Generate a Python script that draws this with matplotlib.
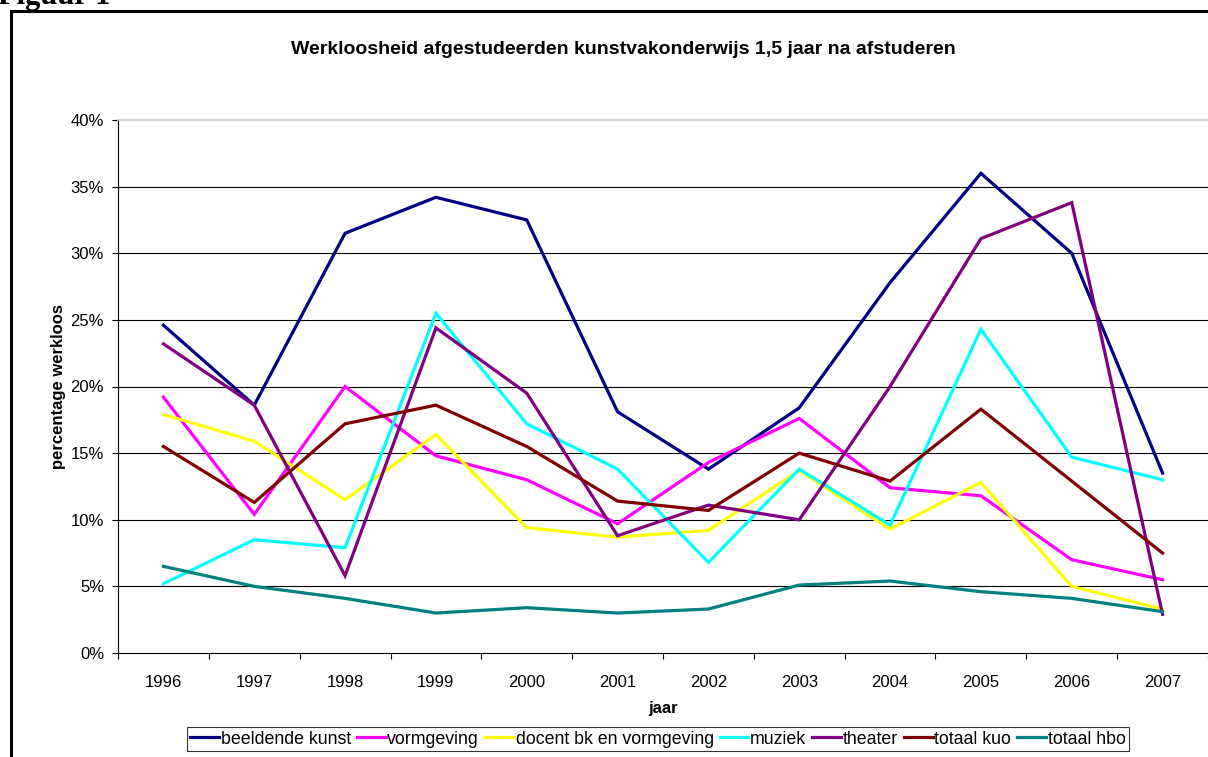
import matplotlib
matplotlib.use("Agg")
import matplotlib.pyplot as plt
from matplotlib.lines import Line2D
from matplotlib.ticker import FixedLocator, PercentFormatter

years = ["1996", "1997", "1998", "1999", "2000", "2001", "2002", "2003", "2004", "2005", "2006", "2007"]

beeldende_kunst = [24.6, 18.6, 31.5, 34.2, 32.5, 18.1, 13.8, 18.4, 27.8, 36.0, 30.0, 13.5]
vormgeving = [19.2, 10.4, 20.0, 14.8, 13.0, 9.7, 14.3, 17.6, 12.4, 11.8, 7.0, 5.5]
docent_bk = [17.9, 15.9, 11.5, 16.4, 9.4, 8.7, 9.2, 13.7, 9.3, 12.8, 5.0, 3.3]
muziek = [5.2, 8.5, 7.9, 25.5, 17.2, 13.8, 6.8, 13.8, 9.6, 24.3, 14.7, 13.0]
theater = [23.2, 18.6, 5.8, 24.4, 19.5, 8.8, 11.1, 10.0, 20.0, 31.1, 33.8, 2.9]
totaal_kuo = [15.5, 11.3, 17.2, 18.6, 15.5, 11.4, 10.7, 15.0, 12.9, 18.3, 12.9, 7.5]
totaal_hbo = [6.5, 5.0, 4.1, 3.0, 3.4, 3.0, 3.3, 5.1, 5.4, 4.6, 4.1, 3.1]

series_names = ["beeldende kunst", "vormgeving", "docent bk en vormgeving", "muziek",
                "theater", "totaal kuo", "totaal hbo"]
series_values = [beeldende_kunst, vormgeving, docent_bk, muziek, theater, totaal_kuo, totaal_hbo]
colors = ["#000080", "#FF00FF", "#FFFF00", "#00FFFF", "#800080", "#800000", "#008080"]

yticks = [0, 5, 10, 15, 20, 25, 30, 35, 40]

plt.rcParams['font.family'] = ['Liberation Sans', 'DejaVu Sans']

W, H = 1208, 757
fig = plt.figure(figsize=(W / 100, H / 100), dpi=100)

left_px, right_px, top_px, bottom_px = 118, 1208, 120, 653
ax = fig.add_axes([left_px / W, 1 - bottom_px / H, (right_px - left_px) / W, (bottom_px - top_px) / H])

x = list(range(len(years)))
for name, vals, c in zip(series_names, series_values, colors):
    ax.plot(x, vals, color=c, lw=2.3, label=name, solid_joinstyle='miter')

ax.set_xlim(-0.5, len(years) - 0.5)
ax.set_ylim(0, 40)
ax.set_xticks(x)
ax.set_xticklabels(years, fontsize=12)
ax.xaxis.set_minor_locator(FixedLocator([i - 0.5 for i in range(len(years) + 1)]))
ax.tick_params(axis='x', which='major', length=0, pad=16)
ax.tick_params(axis='x', which='minor', length=4, width=0.8, color='black')
ax.set_yticks(yticks)
ax.yaxis.set_major_formatter(PercentFormatter(decimals=0))
ax.tick_params(axis='y', which='major', length=4, width=0.8, labelsize=12, pad=6)

for v in yticks[1:-1]:
    ax.axhline(v, color='black', lw=0.8, zorder=0)

ax.spines['right'].set_visible(False)
ax.spines['top'].set_color('#c8c8c8')
ax.spines['top'].set_linewidth(1.2)
ax.spines['left'].set_color('black')
ax.spines['bottom'].set_color('black')
ax.spines['left'].set_linewidth(0.8)
ax.spines['bottom'].set_linewidth(0.8)

ax.set_xlabel("jaar", fontsize=12, fontweight='bold', labelpad=8)
ax.set_ylabel("percentage werkloos", fontsize=12, fontweight='bold', labelpad=3)

fig.text(623 / W, 1 - 50 / H, "Werkloosheid afgestudeerden kunstvakonderwijs 1,5 jaar na afstuderen",
         ha='center', va='center', fontsize=14, fontweight='bold')

fig.text(-2 / W, 1 - 4 / H, "Figuur 1", ha='left', va='baseline', fontsize=22,
         fontweight='bold', family=['Liberation Serif', 'DejaVu Serif'])

leg = fig.legend(loc='center', bbox_to_anchor=(658 / W, 1 - 739 / H), ncol=7, fontsize=12.8,
                 frameon=True, fancybox=False, handlelength=1.6, handletextpad=0.1,
                 columnspacing=0.35, borderpad=0.2, borderaxespad=0)
leg.get_frame().set_edgecolor('black')
leg.get_frame().set_linewidth(0.8)

# outer chart border (left and top edges visible)
fig.add_artist(Line2D([10.5 / W, 10.5 / W], [0, 1 - 11 / H], color='black', lw=2.2,
                      transform=fig.transFigure, solid_capstyle='projecting'))
fig.add_artist(Line2D([10.5 / W, 1.0], [1 - 11 / H, 1 - 11 / H], color='black', lw=2.2,
                      transform=fig.transFigure, solid_capstyle='projecting'))

fig.savefig("out.png", dpi=100, facecolor='white')
